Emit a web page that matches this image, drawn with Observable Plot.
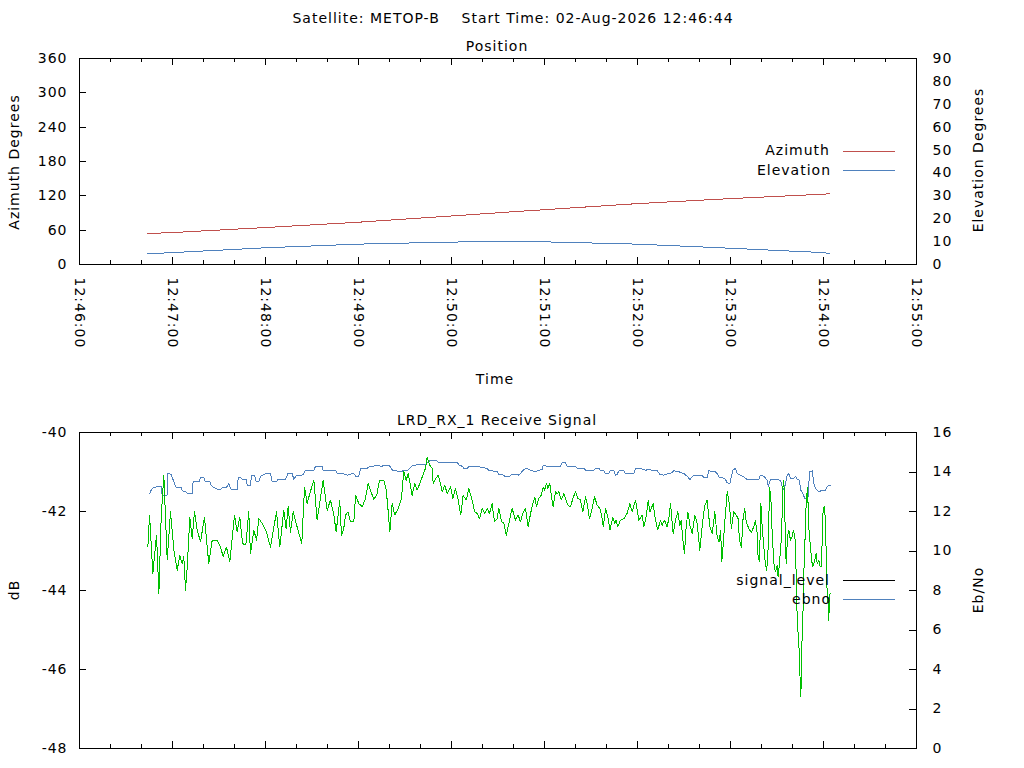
<!DOCTYPE html>
<html><head><meta charset="utf-8">
<script src="https://cdn.jsdelivr.net/npm/d3@7"></script>
<script src="https://cdn.jsdelivr.net/npm/@observablehq/plot@0.6"></script>
<style>
html,body{margin:0;padding:0;background:#fff;}
#wrap{position:relative;width:1024px;height:768px;overflow:hidden;font-family:"DejaVu Sans",sans-serif;color:#000;background:#fff;}
.t{position:absolute;white-space:pre;font-size:14px;line-height:1;letter-spacing:1px;}
.box{position:absolute;left:0;}
.box svg path,.box svg line,.box svg rect{shape-rendering:crispEdges;}
.leg{position:absolute;height:0;border-top:1px solid #000;}
</style></head><body><div id="wrap"></div><script>
// ---------- data ----------
const startTime = "2026-08-02T12:46:00Z"; // time axis origin (12:46:00)
const axisEnd = 540;                       // 12:55:00 in seconds after origin
// Position panel (seconds after 12:46:00)
const posTime = [44, 60, 120, 180, 240, 270, 300, 360, 420, 480, 484];
const azimuth = [54.2, 55.8, 64.6, 73.9, 84.8, 90.4, 95.8, 106.4, 115.2, 122.9, 123.8];
const elevation = [4.7, 5.2, 7.3, 8.9, 9.8, 10.0, 9.9, 8.9, 7.1, 5.2, 4.8];
const azTicks = [0, 60, 120, 180, 240, 300, 360];
const elTicks = [0, 10, 20, 30, 40, 50, 60, 70, 80, 90];

// Receive signal panel
const sigTime = [44.1,45.2,47.3,49.7,51.2,52.7,54.4,56.6,58.7,60.9,63.0,64.7,66.2,67.3,68.4,69.5,71.2,72.7,74.2,75.9,78.1,80.6,83.4,85.6,88.8,91.0,92.7,94.8,97.0,98.5,100.0,101.7,103.4,105.2,107.3,109.2,110.3,112.5,114.2,115.7,117.8,120.6,123.2,127.1,129.2,131.8,133.3,134.6,136.1,137.9,140.4,143.4,145.2,146.9,148.6,151.2,153.3,157.2,159.8,161.9,164.1,165.6,167.9,
169.0,170.5,171.6,173.3,174.8,177.0,178.1,180.2,182.4,184.5,186.2,187.7,189.9,192.0,193.5,196.3,197.9,199.1,200.2,201.7,203.4,205.6,207.7,209.2,210.8,212.0,213.5,214.6,216.3,217.8,220.0,221.5,223.2,224.3,226.0,227.5,228.2,229.7,231.4,232.9,234.0,235.7,237.2,239.4,240.9,242.6,244.3,246.0,247.5,249.5,251.2,253.3,255.0,256.6,258.1,259.8,261.5,263.0,264.5,266.2,267.7,269.5,270.5,272.3,273.8,275.3,277.0,279.1,281.3,283.0,284.5,286.0,287.7,289.5,291.0,292.5,293.8,
294.8,296.3,297.9,299.2,300.2,301.3,302.2,303.4,304.5,305.6,307.1,308.2,309.3,310.8,312.5,313.6,315.1,316.8,318.3,320.0,321.5,323.2,324.7,326.5,327.5,329.0,330.3,332.3,334.0,335.7,336.8,337.9,339.4,340.9,342.2,344.1,345.2,346.2,347.3,349.0,351.2,353.3,355.1,356.6,358.7,360.9,363.0,364.1,365.8,366.9,368.0,370.1,371.6,373.1,374.8,375.9,377.4,379.1,380.2,381.3,383.0,384.5,386.0,387.3,388.2,389.5,390.3,391.4,392.5,393.8,395.3,397.0,398.5,400.2,401.7,403.2,404.9,406.7,408.2,409.9,411.4,412.7,413.6,414.4,415.3,416.4,417.9,418.9,419.6,
420.6,422.1,423.7,424.9,425.8,427.1,428.0,429.2,430.1,431.4,432.3,433.5,435.0,436.1,437.2,437.8,438.7,439.6,440.4,441.5,442.6,443.4,444.3,445.2,446.0,446.9,448.0,449.0,450.1,450.7,451.6,452.9,453.8,454.4,455.1,455.9,456.8,457.6,458.7,459.8,460.6,461.5,461.9,462.8,463.7,464.3,465.0,465.4,466.0,466.7,467.3,468.0,468.8,469.7,470.5,471.6,472.3,473.1,474.4,475.3,475.9,477.0,477.8,478.7,479.6,480.4,481.3,482.1,482.6,483.0,483.4,483.9,484.3];
const sigDb = [-42.90,-42.09,-43.57,-42.60,-44.08,-42.14,-41.08,-43.23,-42.01,-42.98,-43.49,-43.11,-43.32,-43.15,-43.99,-43.40,-42.14,-42.68,-42.01,-42.47,-42.77,-42.14,-43.32,-42.73,-42.73,-42.90,-43.15,-42.90,-43.28,-42.68,-42.09,-42.52,-42.14,-42.81,-42.85,-42.01,-43.06,-42.47,-42.73,-42.18,-42.30,-42.52,-42.90,-42.01,-42.90,-41.97,-42.43,-41.88,-42.52,-42.01,-42.39,-42.81,-41.38,-41.80,-41.54,-41.21,-42.22,-41.21,-41.97,-41.71,-42.09,-42.52,-41.71,
-42.60,-42.43,-42.09,-42.01,-42.26,-42.26,-41.59,-41.80,-41.88,-41.67,-41.29,-41.46,-41.70,-41.55,-41.21,-41.21,-41.46,-41.97,-42.52,-41.80,-42.09,-41.92,-41.67,-40.99,-41.21,-41.04,-41.33,-41.59,-41.29,-41.46,-41.25,-41.08,-40.91,-40.62,-40.83,-40.91,-41.29,-41.17,-41.08,-41.29,-41.50,-41.33,-41.55,-41.38,-41.67,-41.42,-41.71,-42.09,-41.59,-41.71,-41.42,-41.71,-42.01,-42.05,-42.18,-41.92,-42.05,-41.92,-42.05,-41.80,-42.26,-42.18,-41.92,-42.26,-42.30,-42.60,-42.30,-41.92,-42.22,-42.09,-42.26,-42.05,-41.92,-42.39,-42.05,-41.80,-41.63,
-41.88,-41.67,-41.59,-41.38,-41.46,-41.29,-41.42,-41.29,-41.63,-41.88,-41.50,-41.55,-41.50,-41.71,-41.55,-41.67,-41.84,-41.88,-41.67,-41.50,-41.67,-41.71,-42.01,-41.63,-41.80,-42.18,-42.01,-41.63,-41.84,-41.92,-42.09,-42.39,-41.92,-42.14,-42.47,-42.14,-42.30,-42.22,-42.39,-42.22,-42.18,-42.05,-41.80,-42.01,-41.71,-42.22,-42.09,-42.39,-42.09,-41.71,-42.01,-41.80,-42.22,-42.47,-42.22,-42.35,-42.22,-42.39,-42.18,-41.80,-42.56,-42.22,-42.01,-42.35,-42.22,-42.81,-43.06,-42.39,-42.01,-42.35,-42.56,-42.09,-42.30,-42.98,-42.39,-41.88,-41.71,-42.39,-42.56,-42.01,-42.64,-42.77,-42.47,-43.27,-42.85,-42.22,-41.50,-41.71,-41.97,
-42.43,-42.01,-42.09,-42.18,-42.73,-42.90,-42.22,-41.92,-42.26,-42.39,-42.47,-42.52,-42.39,-42.22,-42.56,-43.15,-43.27,-41.80,-42.35,-42.90,-43.36,-43.49,-42.90,-41.38,-41.63,-42.56,-43.32,-43.53,-43.36,-43.65,-43.32,-42.64,-41.38,-41.21,-42.14,-43.32,-42.64,-42.47,-42.73,-42.64,-42.47,-42.64,-42.81,-44.41,-45.17,-45.51,-46.36,-46.69,-45.43,-44.67,-43.57,-42.81,-41.80,-41.38,-42.39,-42.90,-43.23,-43.40,-43.23,-43.06,-43.32,-43.23,-43.40,-43.40,-42.05,-41.88,-42.22,-43.82,-44.16,-44.33,-44.75,-44.16,-44.08];

const ebnoTime = [45.4,46.2,47.5,51.2,52.7,53.3,56.6,57.0,59.1,60.9,62.4,65.6,66.2,68.4,69.5,72.7,73.3,77.0,78.1,80.2,81.3,84.1,85.0,86.7,89.2,91.0,92.0,94.8,96.3,97.8,101.7,102.4,103.9,105.0,107.7,108.2,110.3,111.0,112.9,114.0,115.7,116.8,120.0,123.2,124.3,127.1,128.0,132.9,134.4,137.2,138.3,140.0,143.6,144.7,145.8,151.2,152.3,156.6,157.2,165.2,166.2,
169.0,171.6,172.7,174.8,177.0,178.1,180.2,181.3,185.6,186.7,189.9,191.0,192.7,195.3,196.3,199.6,200.6,202.1,208.2,209.2,212.0,212.9,215.1,221.1,223.2,224.3,226.5,230.8,231.8,243.7,245.2,246.9,248.0,250.1,251.2,253.3,257.6,259.8,263.0,264.1,266.2,269.5,270.5,273.8,274.8,277.0,278.1,280.2,282.4,283.4,284.5,286.7,288.8,291.0,293.8,
298.5,299.1,301.7,310.3,311.4,313.6,314.6,320.0,321.1,325.4,326.5,331.8,332.9,335.1,336.1,338.3,339.4,341.5,342.6,344.7,345.8,346.9,348.0,351.2,352.3,357.6,358.7,362.0,365.2,367.3,369.5,372.7,374.4,377.0,378.1,381.3,383.4,386.7,389.9,392.0,393.8,395.3,396.4,401.7,402.8,404.9,406.0,410.3,411.4,412.5,414.6,416.8,417.9,419.6,
421.5,423.2,424.3,426.4,428.6,430.7,438.3,439.3,441.5,443.6,444.3,445.8,452.3,453.3,453.8,455.0,456.6,457.6,458.7,460.9,461.9,463.0,464.5,465.2,466.2,468.0,468.8,470.1,471.0,472.7,473.8,474.8,477.0,479.1,481.3,482.4,484.5];
const ebnoVal = [12.91,13.08,13.21,13.28,13.25,12.83,12.83,13.92,13.89,13.50,13.21,13.21,13.05,13.00,12.91,12.91,13.50,13.50,13.70,13.70,13.50,13.50,13.33,13.21,13.11,13.11,13.21,13.21,13.42,13.11,13.11,13.72,13.72,13.62,13.62,13.33,13.33,13.84,13.84,13.50,13.50,13.79,13.92,13.92,13.50,13.50,13.62,13.62,13.92,13.92,13.62,13.84,13.84,13.92,14.09,14.09,14.29,14.29,14.09,14.09,13.92,
13.92,13.89,13.84,13.89,13.92,13.79,13.79,14.18,14.18,14.26,14.29,14.34,14.31,14.29,14.34,14.34,14.26,14.06,14.04,14.09,14.09,14.18,14.34,14.38,14.38,14.46,14.60,14.56,14.48,14.46,14.34,14.29,14.18,14.18,14.26,14.29,14.26,14.23,14.18,14.06,14.06,14.01,13.89,13.84,13.75,13.75,13.84,13.89,13.89,13.84,13.92,14.14,14.18,14.09,14.01,
14.13,14.34,14.29,14.29,14.46,14.46,14.29,14.29,14.18,14.18,14.09,14.09,14.18,14.18,14.09,14.06,13.92,13.92,14.09,14.06,13.84,13.89,14.06,14.06,13.92,13.92,14.18,14.18,14.09,14.13,14.09,14.06,13.89,13.84,13.89,13.92,14.06,14.01,13.92,13.79,13.62,13.75,13.84,13.84,13.72,13.72,14.06,14.01,13.92,13.75,13.72,13.62,13.45,13.42,
14.09,14.18,13.92,13.84,13.75,13.62,13.62,13.84,13.79,13.59,13.28,13.62,13.59,13.25,13.11,13.25,13.84,13.92,13.67,13.67,13.79,13.62,13.59,13.08,12.99,12.66,12.66,12.74,14.01,14.06,13.42,13.16,12.99,13.08,13.08,13.28,13.33];
const dbTicks = [-48, -46, -44, -42, -40];
const ebnoTicks = [0, 2, 4, 6, 8, 10, 12, 14, 16];

// ---------- helpers ----------
const t0 = new Date(startTime);
const at = s => new Date(+t0 + s * 1000);
const tEnd = at(axisEnd);
const xMajor = d3.utcMinute.range(t0, new Date(+tEnd + 1));
const xMinor = d3.utcSecond.every(20).range(t0, tEnd).filter(d => d.getUTCSeconds() !== 0);

const posRows = posTime.map((s, i) => ({time: at(s), az: azimuth[i], el: elevation[i]}));
const sigRows = sigTime.map((s, i) => ({time: at(s), v: sigDb[i]}));
const ebRows = ebnoTime.map((s, i) => ({time: at(s), v: ebnoVal[i]}));

const RED = "#c0504d", BLUE = "#4f81bd", GREEN = "#00c000";
const W = 1024, ML = 79, MR = 108;
const PW = W - ML - MR;
const font = {fontFamily: "DejaVu Sans", fontSize: "14px", letterSpacing: "1px", overflow: "visible", background: "transparent"};

function tickMarks(innerH) {
  return [
    Plot.tickX(xMajor, {x: d => d, insetTop: innerH - 7, stroke: "#000"}),
    Plot.tickX(xMajor, {x: d => d, insetBottom: innerH - 7, stroke: "#000"}),
    Plot.tickX(xMinor, {x: d => d, insetTop: innerH - 4, stroke: "#000"}),
    Plot.tickX(xMinor, {x: d => d, insetBottom: innerH - 4, stroke: "#000"})
  ];
}

// ---------- top panel ----------
const topH = 384, topMT = 58, topMB = 120, topIH = topH - topMT - topMB;
const elScale = 360 / 90;
const topPlot = Plot.plot({
  width: W, height: topH,
  marginLeft: ML, marginRight: MR, marginTop: topMT, marginBottom: topMB,
  style: font,
  x: {type: "utc", domain: [t0, tEnd]},
  y: {domain: [0, 360]},
  marks: [
    ...tickMarks(topIH),
    Plot.tickY(azTicks, {y: d => d, insetRight: PW - 7, stroke: "#000"}),
    Plot.line(posRows, {x: "time", y: "az", stroke: RED, strokeWidth: 1}),
    Plot.line(posRows, {x: "time", y: d => d.el * elScale, stroke: BLUE, strokeWidth: 1}),
    Plot.frame({stroke: "#000"}),
    Plot.axisX({ticks: xMajor, tickFormat: d3.utcFormat("%H:%M:%S"), tickRotate: 90, tickSize: 0, tickPadding: 13, label: null}),
    Plot.axisY({anchor: "left", ticks: azTicks, tickFormat: d => String(d), tickSize: 0, tickPadding: 12, label: null}),
    Plot.axisY({anchor: "right", ticks: elTicks.map(v => v * elScale), tickFormat: d => String(d / elScale), tickSize: 0, tickPadding: 16, label: null})
  ]
});

// ---------- bottom panel ----------
const botTop = 384, botH = 384, botMT = 48, botMB = 20, botIH = botH - botMT - botMB;
const ebToDb = v => -48 + v / 2;
const botPlot = Plot.plot({
  width: W, height: botH,
  marginLeft: ML, marginRight: MR, marginTop: botMT, marginBottom: botMB,
  style: font,
  x: {type: "utc", domain: [t0, tEnd], axis: null},
  y: {domain: [-48, -40], axis: null},
  marks: [
    ...tickMarks(botIH),
    Plot.tickY(dbTicks, {y: d => d, insetRight: PW - 7, stroke: "#000"}),
    Plot.tickY(ebnoTicks.map(ebToDb), {y: d => d, insetLeft: PW - 7, stroke: "#000"}),
    Plot.line(ebRows, {x: "time", y: d => ebToDb(d.v), stroke: BLUE, strokeWidth: 1}),
    Plot.line(sigRows, {x: "time", y: "v", stroke: GREEN, strokeWidth: 1}),
    Plot.frame({stroke: "#000"}),
    Plot.axisY({anchor: "left", ticks: dbTicks, tickFormat: d => String(d), tickSize: 0, tickPadding: 12, label: null}),
    Plot.axisY({anchor: "right", ticks: ebnoTicks.map(ebToDb), tickFormat: d => String(Math.round((d + 48) * 2)), tickSize: 0, tickPadding: 16, label: null})
  ]
});

// ---------- assemble ----------
const wrap = document.getElementById("wrap");
function box(el, top) { const d = document.createElement("div"); d.className = "box"; d.style.top = top + "px"; d.appendChild(el); wrap.appendChild(d); }
box(topPlot, 0);
box(botPlot, botTop);

function text(str, x, y, anchor = "middle", rot = 0) {
  const d = document.createElement("div");
  d.className = "t"; d.textContent = str;
  d.style.left = x + "px"; d.style.top = y + "px";
  const tx = anchor === "middle" ? "-50%" : anchor === "end" ? "-100%" : "0";
  d.style.transform = rot ? `translate(-50%,-50%) rotate(${rot}deg)` : `translate(${tx},-50%)`;
  wrap.appendChild(d);
}
function legLine(x1, x2, y, color) {
  const d = document.createElement("div");
  d.className = "leg"; d.style.left = x1 + "px"; d.style.width = (x2 - x1) + "px"; d.style.top = y + "px"; d.style.borderTopColor = color;
  wrap.appendChild(d);
}
text("Satellite: METOP-B    Start Time: 02-Aug-2026 12:46:44", 513, 18);
text("Position", 497, 46);
text("Time", 495, 379);
text("Azimuth Degrees", 14, 162, "middle", -90);
text("Elevation Degrees", 978, 160, "middle", -90);
text("Azimuth", 830, 150, "end");
text("Elevation", 831, 170, "end");
legLine(843, 895, 151, RED);
legLine(843, 895, 170, BLUE);
text("LRD_RX_1 Receive Signal", 497, 420);
text("dB", 14, 590, "middle", -90);
text("Eb/No", 978, 590, "middle", -90);
text("signal_level", 830, 580, "end");
text("ebno", 831, 599, "end");
legLine(843, 895, 580, "#000");
legLine(843, 895, 599, BLUE);
</script></body></html>
